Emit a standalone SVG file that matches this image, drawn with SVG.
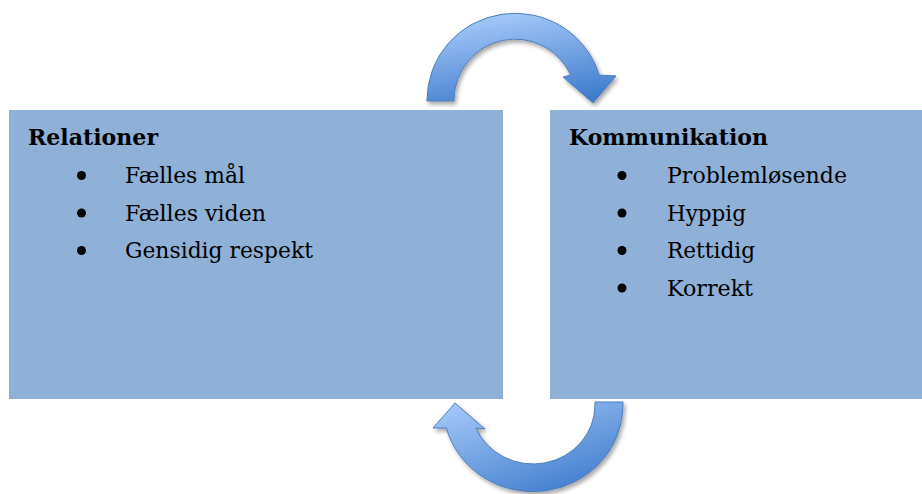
<svg xmlns="http://www.w3.org/2000/svg" width="922" height="494" viewBox="0 0 922 494">
  <defs>
    <linearGradient id="gTop" x1="0.35" y1="0" x2="0.65" y2="1">
      <stop offset="0" stop-color="#a6c9fa"/>
      <stop offset="1" stop-color="#3f7ccc"/>
    </linearGradient>
    <linearGradient id="gBot" x1="0.1" y1="0" x2="0.8" y2="1">
      <stop offset="0" stop-color="#a6c9fa"/>
      <stop offset="1" stop-color="#3f7ccc"/>
    </linearGradient>
    <filter id="shadow" x="-10%" y="-10%" width="130%" height="130%">
      <feGaussianBlur in="SourceAlpha" stdDeviation="2.2"/>
      <feOffset dx="1.5" dy="2.5" result="b"/>
      <feComponentTransfer><feFuncA type="linear" slope="0.35"/></feComponentTransfer>
      <feMerge><feMergeNode/><feMergeNode in="SourceGraphic"/></feMerge>
    </filter>
  </defs>
  <style>
    .box { fill: #8fb0d7; }
    .arrow { stroke: #4a7ebb; stroke-width: 1; stroke-linejoin: miter; }
    .head { font-family: "DejaVu Serif", "Liberation Serif", serif; font-size: 22px; font-weight: bold; fill: #000; }
    .item { font-family: "DejaVu Serif", "Liberation Serif", serif; font-size: 22px; fill: #000; }
    .dot { fill: #000; }
  </style>

  <g id="node-relationer">
    <rect class="box" x="9" y="110" width="494" height="289"/>
    <text class="head" x="28" y="145" textLength="130" lengthAdjust="spacingAndGlyphs">Relationer</text>
    <circle class="dot" cx="81.5" cy="175.5" r="4.5"/>
    <text class="item" x="125" y="183" textLength="120" lengthAdjust="spacingAndGlyphs">Fælles mål</text>
    <circle class="dot" cx="81.5" cy="213" r="4.5"/>
    <text class="item" x="125" y="220.5" textLength="141" lengthAdjust="spacingAndGlyphs">Fælles viden</text>
    <circle class="dot" cx="81.5" cy="250.5" r="4.5"/>
    <text class="item" x="125" y="258" textLength="188" lengthAdjust="spacingAndGlyphs">Gensidig respekt</text>
  </g>

  <g id="node-kommunikation">
    <rect class="box" x="550" y="110" width="372" height="289"/>
    <text class="head" x="569" y="145" textLength="199" lengthAdjust="spacingAndGlyphs">Kommunikation</text>
    <circle class="dot" cx="622" cy="175.5" r="4.5"/>
    <text class="item" x="667" y="183" textLength="180" lengthAdjust="spacingAndGlyphs">Problemløsende</text>
    <circle class="dot" cx="622" cy="213" r="4.5"/>
    <text class="item" x="667" y="220.5" textLength="79" lengthAdjust="spacingAndGlyphs">Hyppig</text>
    <circle class="dot" cx="622" cy="250.5" r="4.5"/>
    <text class="item" x="667" y="258" textLength="88" lengthAdjust="spacingAndGlyphs">Rettidig</text>
    <circle class="dot" cx="622" cy="288" r="4.5"/>
    <text class="item" x="667" y="295.5" textLength="86" lengthAdjust="spacingAndGlyphs">Korrekt</text>
  </g>

  <g id="connectors">
    <path class="arrow" fill="url(#gTop)" filter="url(#shadow)"
      d="M 427 101 L 427 100 A 88 87 0 0 1 599.2 75 L 616 76 L 593 103 L 563 77 L 570.6 75 A 61 61 0 0 0 454 100 L 454 101 Z"/>
    <path class="arrow" fill="url(#gBot)" filter="url(#shadow)"
      d="M 623 402 L 623 405 A 90 87 0 0 1 446.3 428 L 433 428 L 455 403 L 485 429 L 475.9 428 A 62 59 0 0 0 595 405 L 595 402 Z"/>
  </g>
</svg>
